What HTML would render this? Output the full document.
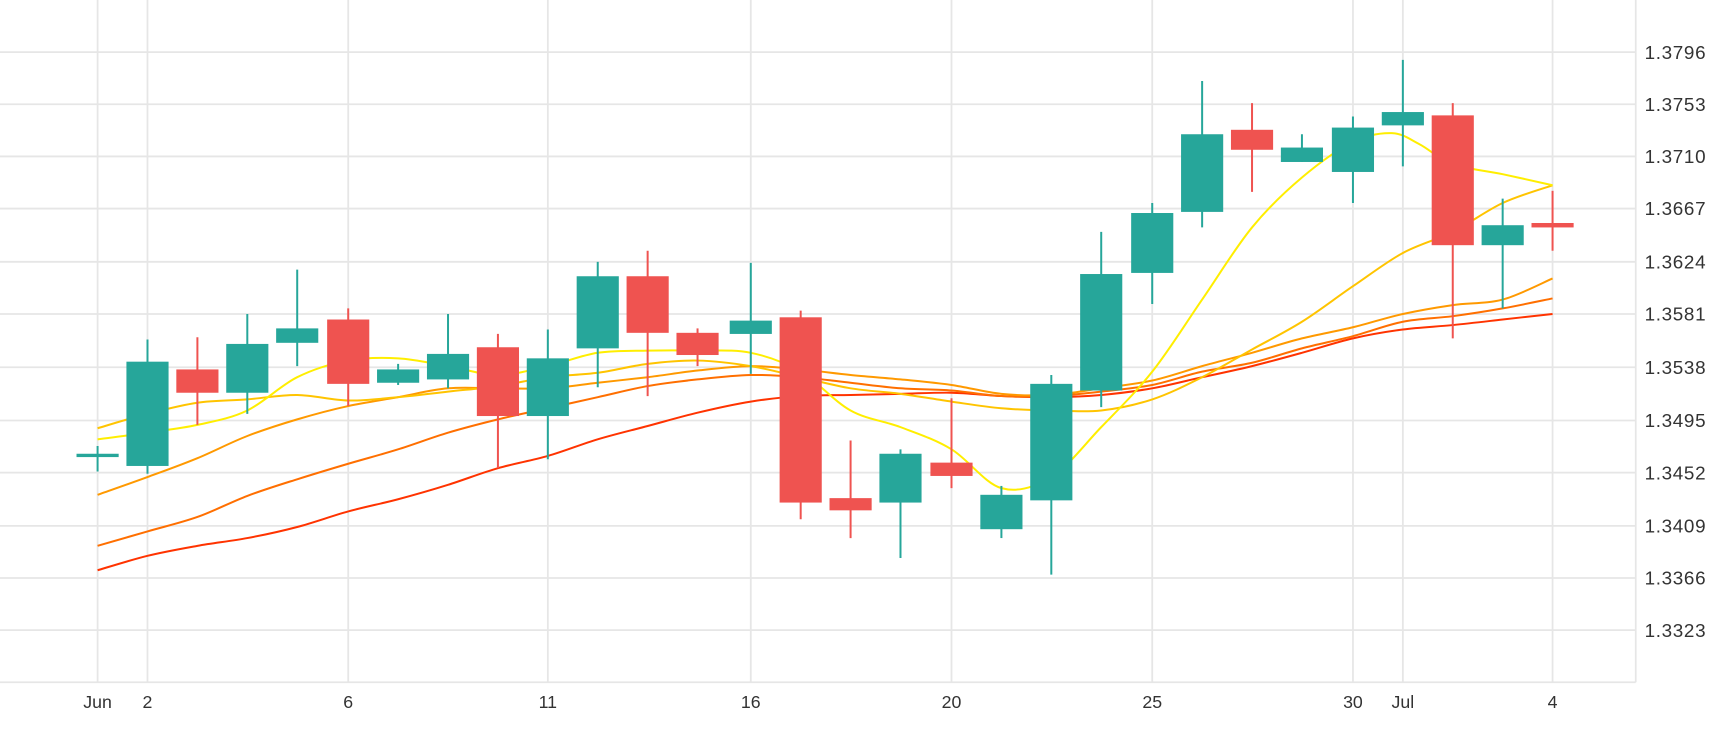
<!DOCTYPE html>
<html><head><meta charset="utf-8"><style>
html,body{margin:0;padding:0;background:#fff;}
svg{display:block;}
text{font-family:"Liberation Sans","DejaVu Sans",sans-serif;fill:#333;}
</style></head><body>
<svg id="s" width="1730" height="730" viewBox="0 0 1560 658" xmlns="http://www.w3.org/2000/svg" preserveAspectRatio="none">
<g stroke="#e6e6e6" stroke-width="1.6" fill="none">
<line x1="0" y1="47" x2="1475" y2="47"/><line x1="0" y1="94" x2="1475" y2="94"/>
<line x1="0" y1="141" x2="1475" y2="141"/><line x1="0" y1="188" x2="1475" y2="188"/>
<line x1="0" y1="236" x2="1475" y2="236"/><line x1="0" y1="283" x2="1475" y2="283"/>
<line x1="0" y1="331" x2="1475" y2="331"/><line x1="0" y1="379" x2="1475" y2="379"/>
<line x1="0" y1="426" x2="1475" y2="426"/><line x1="0" y1="474" x2="1475" y2="474"/>
<line x1="0" y1="521" x2="1475" y2="521"/><line x1="0" y1="568" x2="1475" y2="568"/>
<line x1="0" y1="615" x2="1475" y2="615"/>
<line x1="1475" y1="0" x2="1475" y2="615"/>
<line x1="88" y1="0" x2="88" y2="615"/><line x1="133" y1="0" x2="133" y2="615"/>
<line x1="314" y1="0" x2="314" y2="615"/><line x1="494" y1="0" x2="494" y2="615"/>
<line x1="677" y1="0" x2="677" y2="615"/><line x1="858" y1="0" x2="858" y2="615"/>
<line x1="1039" y1="0" x2="1039" y2="615"/><line x1="1220" y1="0" x2="1220" y2="615"/>
<line x1="1265" y1="0" x2="1265" y2="615"/><line x1="1400" y1="0" x2="1400" y2="615"/>
</g>
<g font-size="16" text-anchor="middle">
<text x="88" y="638">Jun</text><text x="133" y="638">2</text><text x="314" y="638">6</text>
<text x="494" y="638">11</text><text x="677" y="638">16</text><text x="858" y="638">20</text>
<text x="1039" y="638">25</text><text x="1220" y="638">30</text><text x="1265" y="638">Jul</text>
<text x="1400" y="638">4</text>
</g>
<g font-size="17" letter-spacing="0.6">
<text x="1483" y="53">1.3796</text><text x="1483" y="100">1.3753</text><text x="1483" y="147">1.3710</text>
<text x="1483" y="194">1.3667</text><text x="1483" y="242">1.3624</text><text x="1483" y="289">1.3581</text>
<text x="1483" y="337">1.3538</text><text x="1483" y="385">1.3495</text><text x="1483" y="432">1.3452</text>
<text x="1483" y="480">1.3409</text><text x="1483" y="527">1.3366</text><text x="1483" y="574">1.3323</text>
</g>
<g id="ma" fill="none" stroke-width="1.8" stroke-linejoin="round">
<polyline stroke="#ff3300" points="88,514 133,501 178,492 223,485 268,475 314,461 359,450 404,437 449,422 494,411 539,396 584,384 629,372 677,362 722,357 767,356 812,355 858,354 903,357 948,358 993,356 1039,350 1084,340 1129,330 1174,318 1220,305 1265,297 1310,293 1355,288 1400,283"/>
<polyline stroke="#ff6f00" points="88,492 133,479 178,466 223,447 268,432 314,418 359,405 404,390 449,378 494,368 539,358 584,348 629,342 677,338 722,340 767,345 812,350 858,352 903,357 948,357 993,353 1039,347 1084,335 1129,327 1174,314 1220,303 1265,290 1310,285 1355,278 1400,269"/>
<polyline stroke="#ff9900" points="88,446 133,430 178,413 223,393 268,378 314,366 359,358 404,350 449,350 494,350 539,345 584,340 629,334 677,330 722,333 767,338 812,342 858,347 903,355 948,356 993,350 1039,343 1084,330 1129,318 1174,305 1220,295 1265,283 1310,275 1355,270 1400,251"/>
<polyline stroke="#ffc400" points="88,386 133,373 178,363 223,360 268,356 314,361 359,358 404,353 449,348 494,340 539,336 584,328 629,325 677,330 722,340 767,350 812,355 858,362 903,368 948,370 993,370 1039,360 1084,340 1129,315 1174,290 1220,258 1265,228 1310,209 1355,183 1400,167"/>
<polyline stroke="#ffee00" points="88,396 133,390 178,383 223,370 268,340 314,325 359,323 404,330 449,338 494,330 539,318 584,316 629,316 677,318 722,335 767,370 812,385 858,405 903,440 948,430 993,385 1039,335 1084,270 1129,205 1174,160 1220,128 1255,120 1280,130 1310,148 1355,157 1400,167"/>
</g>
<g stroke-width="1.8">
<line x1="88" y1="402" x2="88" y2="425" stroke="#26a69a"/><rect x="69" y="409" width="38" height="3" fill="#26a69a"/>
<line x1="133" y1="306" x2="133" y2="427" stroke="#26a69a"/><rect x="114" y="326" width="38" height="94" fill="#26a69a"/>
<line x1="178" y1="304" x2="178" y2="383" stroke="#ef5350"/><rect x="159" y="333" width="38" height="21" fill="#ef5350"/>
<line x1="223" y1="283" x2="223" y2="373" stroke="#26a69a"/><rect x="204" y="310" width="38" height="44" fill="#26a69a"/>
<line x1="268" y1="243" x2="268" y2="330" stroke="#26a69a"/><rect x="249" y="296" width="38" height="13" fill="#26a69a"/>
<line x1="314" y1="278" x2="314" y2="366" stroke="#ef5350"/><rect x="295" y="288" width="38" height="58" fill="#ef5350"/>
<line x1="359" y1="328" x2="359" y2="347" stroke="#26a69a"/><rect x="340" y="333" width="38" height="12" fill="#26a69a"/>
<line x1="404" y1="283" x2="404" y2="350" stroke="#26a69a"/><rect x="385" y="319" width="38" height="23" fill="#26a69a"/>
<line x1="449" y1="301" x2="449" y2="422" stroke="#ef5350"/><rect x="430" y="313" width="38" height="62" fill="#ef5350"/>
<line x1="494" y1="297" x2="494" y2="414" stroke="#26a69a"/><rect x="475" y="323" width="38" height="52" fill="#26a69a"/>
<line x1="539" y1="236" x2="539" y2="349" stroke="#26a69a"/><rect x="520" y="249" width="38" height="65" fill="#26a69a"/>
<line x1="584" y1="226" x2="584" y2="357" stroke="#ef5350"/><rect x="565" y="249" width="38" height="51" fill="#ef5350"/>
<line x1="629" y1="296" x2="629" y2="330" stroke="#ef5350"/><rect x="610" y="300" width="38" height="20" fill="#ef5350"/>
<line x1="677" y1="237" x2="677" y2="337" stroke="#26a69a"/><rect x="658" y="289" width="38" height="12" fill="#26a69a"/>
<line x1="722" y1="280" x2="722" y2="468" stroke="#ef5350"/><rect x="703" y="286" width="38" height="167" fill="#ef5350"/>
<line x1="767" y1="397" x2="767" y2="485" stroke="#ef5350"/><rect x="748" y="449" width="38" height="11" fill="#ef5350"/>
<line x1="812" y1="405" x2="812" y2="503" stroke="#26a69a"/><rect x="793" y="409" width="38" height="44" fill="#26a69a"/>
<line x1="858" y1="359" x2="858" y2="440" stroke="#ef5350"/><rect x="839" y="417" width="38" height="12" fill="#ef5350"/>
<line x1="903" y1="438" x2="903" y2="485" stroke="#26a69a"/><rect x="884" y="446" width="38" height="31" fill="#26a69a"/>
<line x1="948" y1="338" x2="948" y2="518" stroke="#26a69a"/><rect x="929" y="346" width="38" height="105" fill="#26a69a"/>
<line x1="993" y1="209" x2="993" y2="367" stroke="#26a69a"/><rect x="974" y="247" width="38" height="105" fill="#26a69a"/>
<line x1="1039" y1="183" x2="1039" y2="274" stroke="#26a69a"/><rect x="1020" y="192" width="38" height="54" fill="#26a69a"/>
<line x1="1084" y1="73" x2="1084" y2="205" stroke="#26a69a"/><rect x="1065" y="121" width="38" height="70" fill="#26a69a"/>
<line x1="1129" y1="93" x2="1129" y2="173" stroke="#ef5350"/><rect x="1110" y="117" width="38" height="18" fill="#ef5350"/>
<line x1="1174" y1="121" x2="1174" y2="146" stroke="#26a69a"/><rect x="1155" y="133" width="38" height="13" fill="#26a69a"/>
<line x1="1220" y1="105" x2="1220" y2="183" stroke="#26a69a"/><rect x="1201" y="115" width="38" height="40" fill="#26a69a"/>
<line x1="1265" y1="54" x2="1265" y2="150" stroke="#26a69a"/><rect x="1246" y="101" width="38" height="12" fill="#26a69a"/>
<line x1="1310" y1="93" x2="1310" y2="305" stroke="#ef5350"/><rect x="1291" y="104" width="38" height="117" fill="#ef5350"/>
<line x1="1355" y1="179" x2="1355" y2="278" stroke="#26a69a"/><rect x="1336" y="203" width="38" height="18" fill="#26a69a"/>
<line x1="1400" y1="172" x2="1400" y2="226" stroke="#ef5350"/><rect x="1381" y="201" width="38" height="4" fill="#ef5350"/>
</g>
</svg>
<script>
(function(){
var NS="http://www.w3.org/2000/svg";
var pls=document.querySelectorAll('#ma polyline');
for(var k=0;k<pls.length;k++){
 var pl=pls[k];
 var p=pl.getAttribute('points').trim().split(/\s+/).map(function(s){var a=s.split(',');return [+a[0],+a[1]];});
 var d='M'+p[0][0]+','+p[0][1];
 for(var i=0;i<p.length-1;i++){
  var p0=p[i-1]||p[i],p1=p[i],p2=p[i+1],p3=p[i+2]||p2;
  var c1x=p1[0]+(p2[0]-p0[0])/6,c1y=p1[1]+(p2[1]-p0[1])/6;
  var c2x=p2[0]-(p3[0]-p1[0])/6,c2y=p2[1]-(p3[1]-p1[1])/6;
  d+=' C'+c1x.toFixed(1)+','+c1y.toFixed(1)+' '+c2x.toFixed(1)+','+c2y.toFixed(1)+' '+p2[0]+','+p2[1];
 }
 var path=document.createElementNS(NS,'path');
 path.setAttribute('d',d);path.setAttribute('stroke',pl.getAttribute('stroke'));
 pl.parentNode.replaceChild(path,pl);
}
})();
</script>
</body></html>
